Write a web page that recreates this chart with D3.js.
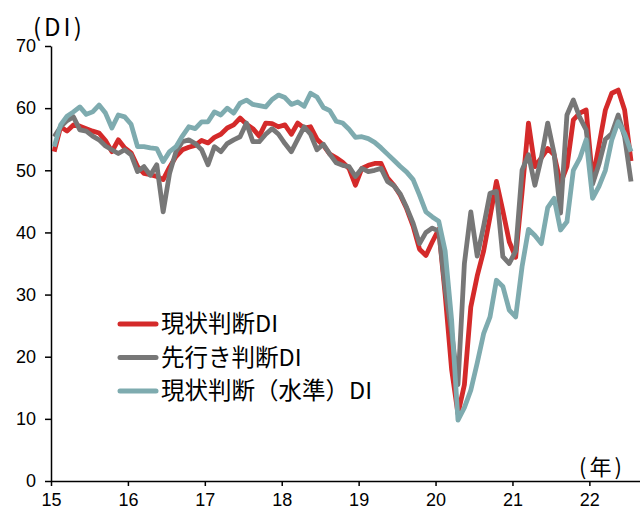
<!DOCTYPE html>
<html lang="ja">
<head>
<meta charset="UTF-8">
<title>景気ウォッチャー DI</title>
<script src="https://d3js.org/d3.v7.min.js"></script>
<style>
  body { margin: 0; background: #fff; }
  svg { display: block; font-family: "Noto Sans CJK JP", "Noto Sans", sans-serif; }
  .axis path, .axis line { stroke: #000; stroke-width: 1.5; }
  .axis text { font-size: 18px; fill: #000; }
</style>
</head>
<body>
<svg id="chart" width="640" height="508"></svg>
<script>
// years on the x axis (one tick each January)
const years = ["15", "16", "17", "18", "19", "20", "21", "22"];
const yTicks = [0, 10, 20, 30, 40, 50, 60, 70];

// monthly values, Jan 2015 - Jul 2022
const genjo = [
  53.0, 57.0, 56.3, 57.3, 57.1, 56.7, 56.3, 56.0, 54.8, 53.0, 54.9, 53.6,
  52.8, 50.6, 49.5, 49.3, 49.0, 48.5, 50.5, 52.2, 53.3, 53.7, 54.0, 54.8,
  54.4, 55.3, 55.8, 56.8, 57.3, 58.4, 57.4, 56.7, 55.5, 57.6, 57.5, 57.0,
  57.3, 55.8, 57.6, 56.8, 57.0, 55.0, 54.0, 52.6, 52.0, 51.3, 50.3, 47.6,
  50.3, 50.8, 51.1, 51.1, 48.8, 47.6, 46.0, 43.8, 41.0, 37.3, 36.3, 38.5,
  40.5, 30.0, 18.0, 10.8, 15.5, 28.0, 33.0, 37.0, 42.5, 48.2, 43.5, 38.5,
  36.0, 46.5, 57.6, 50.6, 52.0, 53.5, 52.5, 47.9, 50.6, 58.1, 59.2, 59.7,
  48.5, 54.0, 59.7, 62.4, 62.9, 59.7, 51.5
];
const sakiyuki = [
  55.4, 57.0, 58.0, 58.6, 56.5, 56.3, 55.5, 54.9, 53.9, 53.3, 52.7, 53.3,
  52.5, 49.8, 50.6, 49.2, 50.9, 43.3, 49.5, 53.0, 54.6, 54.9, 54.3, 53.3,
  50.9, 53.8, 53.0, 54.3, 54.9, 55.4, 57.6, 54.6, 54.6, 55.8, 56.7, 55.8,
  54.3, 53.0, 55.0, 57.0, 55.8, 53.3, 54.2, 52.6, 51.2, 50.8, 50.6, 49.0,
  50.3, 49.8, 50.0, 50.3, 48.2, 47.5, 46.2, 44.0, 41.5, 38.2, 40.0, 40.7,
  40.2, 31.0, 24.0, 15.5, 35.0, 43.3, 36.2, 41.0, 46.3, 46.6, 36.1, 35.0,
  37.0, 50.0, 52.5, 47.6, 52.0, 57.6, 52.7, 43.1, 58.9, 61.3, 58.5, 56.5,
  47.8, 51.0, 55.0, 55.9, 58.9, 55.4, 48.2
];
const suijun = [
  53.8, 57.3, 58.7, 59.4, 60.2, 59.0, 59.4, 60.5, 59.2, 56.8, 58.9, 58.6,
  57.4, 53.8, 53.8, 53.6, 53.5, 51.4, 53.0, 53.8, 55.5, 57.0, 56.7, 57.8,
  57.8, 59.4, 58.9, 60.0, 59.2, 60.8, 61.3, 60.6, 60.4, 60.2, 61.4, 62.1,
  61.7, 60.6, 61.0, 60.3, 62.4, 61.8, 60.1, 59.6, 57.9, 57.6, 56.6, 55.3,
  55.4, 55.1, 54.5, 53.6, 52.6, 51.6, 50.6, 49.7, 48.5, 46.0, 43.3, 42.5,
  41.8, 37.0, 26.0, 9.8, 11.8, 14.6, 19.0, 23.7, 26.4, 32.3, 31.3, 27.5,
  26.4, 34.5, 40.5, 39.5, 38.2, 44.0, 45.5, 40.4, 41.7, 50.0, 51.9, 54.9,
  45.5, 47.4, 50.0, 54.9, 57.8, 55.9, 53.0
];

const seriesNames = ["現状判断DI", "先行き判断DI", "現状判断（水準）DI"];
const seriesColors = ["#d42a2a", "#777777", "#7eabaf"];

const svg = d3.select("#chart");

// month index -> x (points sit in the middle of each month)
const x = d3.scaleLinear().domain([0, 91.9]).range([51, 640]);
const y = d3.scaleLinear().domain([0, 70]).range([481, 46]);

// axes
svg.append("g")
  .attr("class", "axis")
  .attr("transform", "translate(51,0)")
  .call(d3.axisLeft(y).tickValues(yTicks).tickSize(6).tickSizeOuter(0).tickPadding(9));

svg.append("g")
  .attr("class", "axis")
  .attr("transform", "translate(0,481)")
  .call(d3.axisBottom(x)
    .tickValues(years.map((d, i) => i * 12))
    .tickFormat((d, i) => years[i])
    .tickSize(5).tickSizeOuter(0).tickPadding(7));

// unit labels
svg.append("text")
  .attr("x", 33).attr("y", 36)
  .attr("font-size", 24)
  .attr("letter-spacing", 3)
  .text("(DI)");
svg.append("text")
  .attr("x", 579).attr("y", 475)
  .attr("font-size", 22)
  .attr("letter-spacing", 3)
  .text("(年)");

// lines
const line = d3.line()
  .x((d, i) => x(i + 0.5))
  .y(d => y(d));

[genjo, sakiyuki, suijun].forEach((s, k) => {
  svg.append("path")
    .datum(s)
    .attr("d", line)
    .attr("fill", "none")
    .attr("stroke", seriesColors[k])
    .attr("stroke-width", 4.8)
    .attr("stroke-linejoin", "round");
});

// legend
const legend = svg.append("g");
seriesNames.forEach((name, k) => {
  const ly = 324 + k * 33.5;
  legend.append("line")
    .attr("x1", 120).attr("x2", 156)
    .attr("y1", ly).attr("y2", ly)
    .attr("stroke", seriesColors[k])
    .attr("stroke-width", 5)
    .attr("stroke-linecap", "round");
  legend.append("text")
    .attr("x", 161).attr("y", ly)
    .attr("dy", "0.36em")
    .attr("font-size", 23.5)
    .text(name);
});
</script>
</body>
</html>
